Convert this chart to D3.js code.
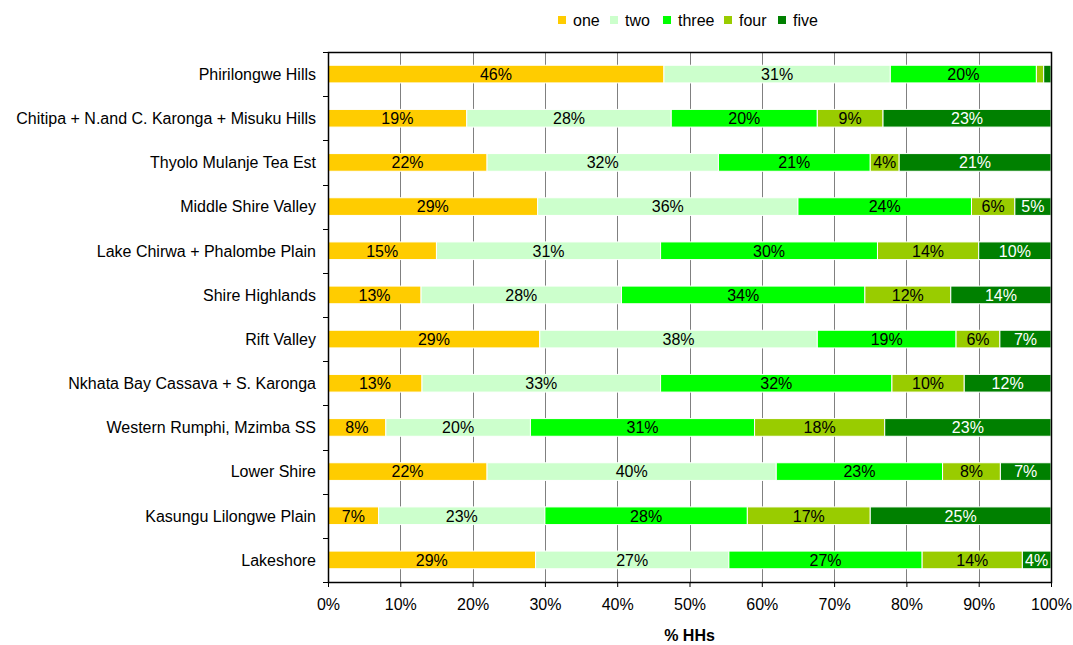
<!DOCTYPE html>
<html>
<head>
<meta charset="utf-8">
<script src="https://cdn.jsdelivr.net/npm/d3@7"></script>
<style>
  body { margin: 0; background: #fff; }
  svg { display: block; font-family: "Liberation Sans", Arial, sans-serif; }
</style>
</head>
<body>
<svg id="chart" width="1073" height="645"></svg>
<script>
// Livelihood zones, top to bottom
const zones = [
  "Phirilongwe Hills",
  "Chitipa + N.and C. Karonga + Misuku Hills",
  "Thyolo Mulanje Tea Est",
  "Middle Shire Valley",
  "Lake Chirwa + Phalombe Plain",
  "Shire Highlands",
  "Rift Valley",
  "Nkhata Bay Cassava + S. Karonga",
  "Western Rumphi, Mzimba SS",
  "Lower Shire",
  "Kasungu Lilongwe Plain",
  "Lakeshore"
];

const seriesNames = ["one", "two", "three", "four", "five"];

// Share of households (%) in each group, per zone
const one   = [46, 19, 22, 29, 15, 13, 29, 13,  8, 22,  7, 29];
const two   = [31, 28, 32, 36, 31, 28, 38, 33, 20, 40, 23, 27];
const three = [20, 20, 21, 24, 30, 34, 19, 32, 31, 23, 28, 27];
const four  = [ 1,  9,  4,  6, 14, 12,  6, 10, 18,  8, 17, 14];
const five  = [ 1, 23, 21,  5, 10, 14,  7, 12, 23,  7, 25,  4];

const xTicks = [0, 0.1, 0.2, 0.3, 0.4, 0.5, 0.6, 0.7, 0.8, 0.9, 1];
const xTitle = "% HHs";

const colors = ["#FFCC00", "#CCFFCC", "#00FF00", "#99CC00", "#008000"];
const labelColors = ["#000", "#000", "#000", "#000", "#fff"];

const rows = zones.map((z, i) => ({
  zone: z, one: one[i], two: two[i], three: three[i], four: four[i], five: five[i]
}));

const stack = d3.stack().keys(seriesNames).offset(d3.stackOffsetExpand);
const layers = stack(rows);

const svg = d3.select("#chart");
const margin = { top: 52, right: 22, bottom: 63, left: 328 };
const W = 1073, H = 645;
const innerW = W - margin.left - margin.right;
const innerH = H - margin.top - margin.bottom;

const g = svg.append("g").attr("transform", `translate(${margin.left},${margin.top})`);

const x = d3.scaleLinear().domain([0, 1]).range([0, innerW]);
const y = d3.scaleBand().domain(zones).range([0, innerH]).paddingInner(0.6).paddingOuter(0.3);

// Vertical gridlines
g.append("g")
  .selectAll("line")
  .data(xTicks.slice(1, -1))
  .join("line")
  .attr("x1", d => Math.round(x(d)) + 0.5)
  .attr("x2", d => Math.round(x(d)) + 0.5)
  .attr("y1", 0)
  .attr("y2", innerH)
  .attr("stroke", "#808080")
  .attr("stroke-width", 1);

// Stacked bars
const layerG = g.selectAll("g.layer")
  .data(layers)
  .join("g")
  .attr("class", "layer")
  .attr("fill", (d, i) => colors[i]);

layerG.selectAll("rect")
  .data(d => d)
  .join("rect")
  .attr("x", d => x(d[0]))
  .attr("y", d => y(d.data.zone))
  .attr("width", d => Math.max(0, x(d[1]) - x(d[0])))
  .attr("height", y.bandwidth())
  .attr("stroke", "#fff")
  .attr("stroke-width", 1);

// Value labels
layers.forEach((layer, li) => {
  g.append("g")
    .selectAll("text")
    .data(layer.filter(d => d.data[layer.key] >= 3))
    .join("text")
    .attr("x", d => (x(d[0]) + x(d[1])) / 2)
    .attr("y", d => y(d.data.zone) + y.bandwidth() / 2)
    .attr("dy", "0.36em")
    .attr("text-anchor", "middle")
    .attr("font-size", 16)
    .attr("fill", labelColors[li])
    .text(d => d.data[layer.key] + "%");
});

// Bottom axis
const xAxis = g.append("g")
  .attr("transform", `translate(0,${innerH})`)
  .call(d3.axisBottom(x).tickValues(xTicks).tickFormat(d3.format(".0%")).tickSize(5).tickPadding(12));
xAxis.select(".domain").remove();
xAxis.selectAll(".tick line").attr("stroke", "#000");
xAxis.selectAll("text").attr("font-size", 16).attr("fill", "#000").attr("font-family", "Liberation Sans, Arial, sans-serif");

// Left axis: category labels with tick marks between categories
g.append("g")
  .selectAll("line")
  .data(d3.range(zones.length + 1))
  .join("line")
  .attr("x1", -5).attr("x2", 0)
  .attr("y1", i => Math.round(i * innerH / zones.length) + 0.5)
  .attr("y2", i => Math.round(i * innerH / zones.length) + 0.5)
  .attr("stroke", "#000");

g.append("g")
  .selectAll("text")
  .data(zones)
  .join("text")
  .attr("x", -12)
  .attr("y", d => y(d) + y.bandwidth() / 2)
  .attr("dy", "0.36em")
  .attr("text-anchor", "end")
  .attr("font-size", 16)
  .attr("fill", "#000")
  .text(d => d);

// Plot frame
g.append("rect")
  .attr("x", 0.5).attr("y", 0.5)
  .attr("width", innerW).attr("height", innerH)
  .attr("fill", "none")
  .attr("stroke", "#000")
  .attr("stroke-width", 1.5);

// Axis title
svg.append("text")
  .attr("x", margin.left + innerW / 2)
  .attr("y", 641)
  .attr("text-anchor", "middle")
  .attr("font-size", 16)
  .attr("font-weight", "bold")
  .text(xTitle);

// Legend
const legendX = [558, 610, 663, 724, 778];
const legend = svg.append("g")
  .selectAll("g")
  .data(seriesNames)
  .join("g")
  .attr("transform", (d, i) => `translate(${legendX[i]},20)`);
legend.append("rect")
  .attr("x", 0).attr("y", -4)
  .attr("width", 8).attr("height", 8)
  .attr("fill", (d, i) => colors[i]);
legend.append("text")
  .attr("x", 15)
  .attr("y", 0)
  .attr("dy", "0.36em")
  .attr("font-size", 16)
  .text(d => d);
</script>
</body>
</html>
